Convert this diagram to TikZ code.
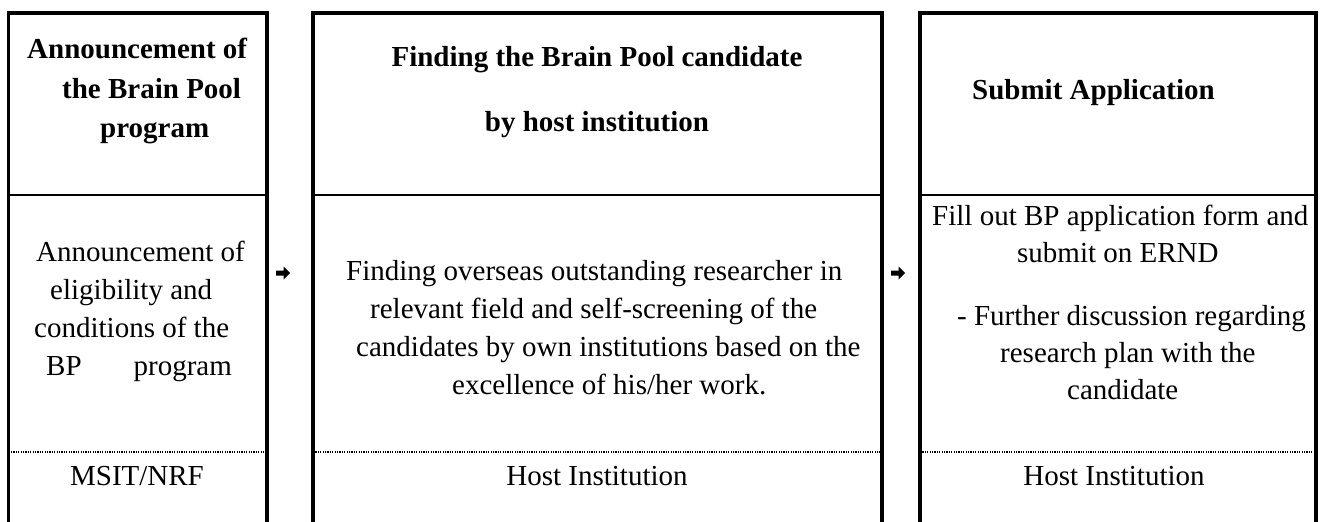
\documentclass[tikz,border=0pt]{standalone}
\usepackage{fontspec}
\setmainfont{Liberation Serif}
\begin{document}
\begin{tikzpicture}[x=1pt,y=-1pt,
  frame/.style={line width=3.5pt},
  divline/.style={line width=2pt},
  dotline/.style={line width=1.2pt,dash pattern=on 1.2pt off 1.2pt},
  hd/.style={font=\fontsize{29}{38}\selectfont\bfseries,anchor=base west,inner sep=0pt},
  bd/.style={font=\fontsize{29}{38}\selectfont,anchor=base west,inner sep=0pt},
  bdc/.style={font=\fontsize{29}{38}\selectfont,anchor=base,inner sep=0pt},
  arr/.style={fill=black}]
\useasboundingbox (0,0) rectangle (1320,522);
% frames
\foreach \l/\r/\n in {8.5/267/a,313/882/b,920/1316/c}{
  \draw[frame] (\l,540) -- (\l,13) -- (\r,13) -- (\r,540);
  \draw[divline] (\l,195) -- (\r,195);
  \draw[dotline] (\l,452) -- (\r,452);
}
% header texts
\node[hd] (h1a) at (27,58) {Announcement of};
\node[hd] (h1b) at (62,98) {the Brain Pool};
\node[hd] (h1c) at (100,137) {program};
\node[hd,anchor=base] (h2a) at (597,66) {Finding the Brain Pool candidate};
\node[hd,anchor=base] (h2b) at (597,131) {by host institution};
\node[hd] (h3a) at (972,99) {Submit Application};
% body box 1
\node[bd] (b1a) at (36,261) {Announcement of};
\node[bd] (b1b) at (50,299) {eligibility and};
\node[bd] (b1c) at (34,337) {conditions of the};
\node[bd] (b1d) at (46,375) {BP\hspace{52pt}program};
% body box 2
\node[bd] (b2a) at (346,280) {Finding overseas outstanding researcher in};
\node[bd] (b2b) at (370,318) {relevant field and self-screening of the};
\node[bd] (b2c) at (356,356) {candidates by own institutions based on the};
\node[bd] (b2d) at (452,394) {excellence of his/her work.};
% body box 3
\node[bd] (b3a) at (932,225) {Fill out BP application form and};
\node[bd] (b3b) at (1017,262) {submit on ERND};
\node[bd] (b3c) at (957,325) {- Further discussion regarding};
\node[bd] (b3d) at (1000,362) {research plan with the};
\node[bd] (b3e) at (1067,399) {candidate};
% footer
\node[bdc] (f1) at (137,485) {MSIT/NRF};
\node[bdc] (f2) at (597,485) {Host Institution};
\node[bdc] (f3) at (1114,485) {Host Institution};
% arrows
\foreach \cx in {283,898}{
  \fill[arr] (\cx-7,270.5) -- (\cx+0.5,270.5) -- (\cx+0.5,266.5) -- (\cx+7,273) -- (\cx+0.5,279.5) -- (\cx+0.5,275.5) -- (\cx-7,275.5) -- cycle;
}
\end{tikzpicture}
\end{document}
